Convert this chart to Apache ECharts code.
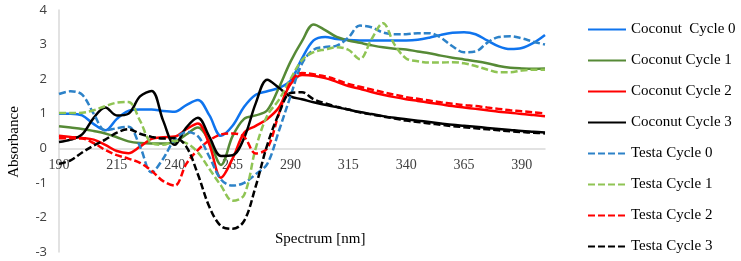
<!DOCTYPE html>
<html>
<head>
<meta charset="utf-8">
<script src="https://cdn.jsdelivr.net/npm/echarts@6/dist/echarts.min.js"></script>
<style>
  html, body { margin: 0; padding: 0; background: #fff; }
  #chart { width: 741px; height: 261px; }
</style>
</head>
<body>
<div id="chart"></div>
<script>
// wavelength grid (nm)
var wavelength = [190,195,200,205,210,215,220,225,230,235,240,245,250,255,260,265,270,275,280,285,
  290,295,300,305,310,315,320,325,330,335,340,345,350,355,360,365,370,375,380,385,390,395,400];

var coconut0 = [1.00,1.00,0.95,0.70,0.52,0.85,1.08,1.12,1.12,1.08,1.06,1.25,1.40,0.95,0.36,0.65,1.20,1.55,1.65,1.75,
  1.95,2.60,3.12,3.22,3.16,3.13,3.12,3.12,3.12,3.12,3.12,3.14,3.20,3.28,3.34,3.36,3.30,3.12,2.95,2.87,2.90,3.05,3.28];
var coconut1 = [0.64,0.60,0.56,0.50,0.43,0.32,0.20,0.15,0.14,0.14,0.18,0.40,0.60,0.20,-0.48,0.35,0.85,0.95,1.10,1.75,
  2.50,3.10,3.58,3.42,3.22,3.12,3.05,2.98,2.92,2.88,2.86,2.80,2.75,2.68,2.62,2.57,2.52,2.46,2.38,2.33,2.31,2.30,2.31];
var coconut2 = [0.36,0.33,0.30,0.25,0.10,-0.08,-0.14,0.05,0.27,0.32,0.34,0.55,0.72,0.10,-0.85,-0.30,0.45,0.65,0.85,1.18,
  1.85,2.12,2.10,2.03,1.92,1.80,1.72,1.63,1.55,1.48,1.42,1.37,1.32,1.27,1.22,1.18,1.14,1.10,1.06,1.03,0.99,0.96,0.93];
var coconut3 = [0.18,0.25,0.40,0.88,1.18,0.95,1.00,1.50,1.66,0.80,0.10,0.60,0.88,0.33,-0.22,-0.20,0.30,1.30,1.98,1.75,
  1.50,1.42,1.33,1.26,1.19,1.12,1.05,0.99,0.93,0.88,0.84,0.80,0.76,0.72,0.68,0.65,0.62,0.59,0.56,0.53,0.50,0.48,0.46];
var testa0 = [1.57,1.65,1.55,1.00,0.52,0.58,0.62,0.05,-0.70,-0.30,0.25,0.47,0.35,-0.25,-0.90,-1.08,-1.00,-0.75,-0.45,0.50,
  1.50,2.45,2.85,2.93,2.97,3.20,3.55,3.50,3.35,3.30,3.30,3.33,3.33,3.20,2.95,2.78,2.80,3.05,3.22,3.24,3.18,3.08,3.00];
var testa1 = [1.02,1.02,1.03,1.10,1.22,1.32,1.34,0.80,0.15,0.10,0.22,0.15,-0.12,-0.60,-1.08,-1.52,-1.35,0.00,0.95,1.40,
  2.00,2.55,2.78,2.86,2.92,2.85,2.58,3.15,3.62,3.00,2.60,2.52,2.48,2.48,2.49,2.46,2.38,2.28,2.20,2.20,2.25,2.27,2.27];
var testa2 = [0.29,0.29,0.28,0.15,-0.05,-0.20,-0.30,-0.42,-0.65,-0.95,-1.08,-0.45,-0.05,0.23,0.40,0.43,0.33,-0.15,0.00,1.00,
  1.90,2.18,2.14,2.08,1.98,1.86,1.78,1.70,1.62,1.55,1.48,1.43,1.38,1.33,1.29,1.25,1.22,1.18,1.14,1.10,1.07,1.04,1.01];
var testa3 = [-0.45,-0.35,-0.12,0.08,0.25,0.45,0.55,0.42,0.33,0.28,0.30,0.05,-0.75,-1.70,-2.25,-2.33,-2.10,-1.10,0.10,1.00,
  1.60,1.62,1.42,1.30,1.20,1.12,1.04,0.98,0.92,0.86,0.80,0.76,0.72,0.68,0.64,0.61,0.58,0.55,0.52,0.49,0.47,0.45,0.43];

var serif = '"Liberation Serif", "Times New Roman", serif';
var yMin = -3, yMax = 4;

function line(name, data, color, dashed) {
  return {
    name: name,
    type: 'line',
    data: data,
    smooth: 0.35,
    symbol: 'none',
    lineStyle: { color: color, width: 2.5, type: dashed ? [7, 3] : 'solid' },
    itemStyle: { color: color }
  };
}

var gridTop = 10, gridBottom = 9, chartH = 261;
var plotH = chartH - gridTop - gridBottom;
// move the category axis up from the grid bottom to the zero line
var zeroOffset = -plotH * (0 - yMin) / (yMax - yMin);

var chart = echarts.init(document.getElementById('chart'), null, { renderer: 'canvas' });
chart.setOption({
  animation: false,
  backgroundColor: '#fff',
  grid: { left: 59, right: 196, top: gridTop, bottom: gridBottom, containLabel: false, outerBoundsMode: 'none' },
  title: {
    text: 'Spectrum [nm]',
    left: 270, top: 227,
    textStyle: { fontFamily: serif, fontSize: 15, fontWeight: 'normal', color: '#000' }
  },
  graphic: [{
    type: 'text',
    x: 14, y: 142,
    rotation: Math.PI / 2,
    style: { text: 'Absorbance', font: '15px ' + serif, fill: '#000', align: 'center', verticalAlign: 'middle' }
  }],
  legend: {
    orient: 'vertical',
    left: 582, top: 17,
    itemWidth: 38, itemHeight: 14, itemGap: 16,
    itemStyle: { opacity: 0 },
    textStyle: { fontFamily: serif, fontSize: 15, color: '#000' },
    data: ['Coconut  Cycle 0', 'Coconut Cycle 1', 'Coconut Cycle 2', 'Coconut Cycle 3',
           'Testa Cycle 0', 'Testa Cycle 1', 'Testa Cycle 2', 'Testa Cycle 3']
  },
  xAxis: {
    type: 'category',
    data: wavelength,
    boundaryGap: false,
    offset: zeroOffset,
    axisLine: { onZero: false, lineStyle: { color: '#d9d9d9', width: 1.5 } },
    axisTick: { show: false },
    axisLabel: { interval: 4, margin: 10, fontFamily: serif, fontSize: 14, color: '#404040' },
    splitLine: { show: false }
  },
  yAxis: {
    type: 'value',
    min: yMin, max: yMax, interval: 1,
    axisLine: { show: true, lineStyle: { color: '#d9d9d9', width: 1.5 } },
    axisTick: { show: false },
    axisLabel: { margin: 12, fontFamily: '"Open Sans", "Liberation Sans", sans-serif', fontSize: 13, color: '#404040' },
    splitLine: { show: false }
  },
  series: [
    line('Coconut  Cycle 0', coconut0, '#0F74EE', false),
    line('Coconut Cycle 1', coconut1, '#568A36', false),
    line('Coconut Cycle 2', coconut2, '#FF0000', false),
    line('Coconut Cycle 3', coconut3, '#000000', false),
    line('Testa Cycle 0', testa0, '#2D82C8', true),
    line('Testa Cycle 1', testa1, '#8FC454', true),
    line('Testa Cycle 2', testa2, '#FF0000', true),
    line('Testa Cycle 3', testa3, '#000000', true)
  ]
});
</script>
</body>
</html>
